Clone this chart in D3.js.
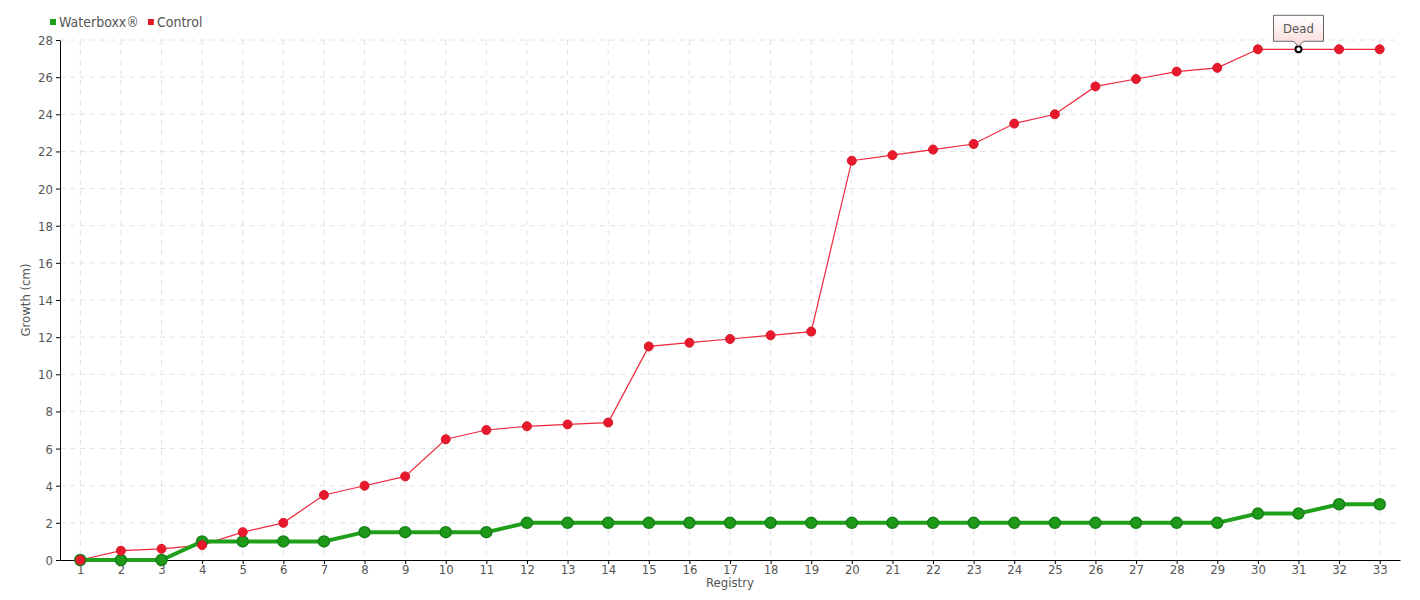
<!DOCTYPE html>
<html>
<head>
<meta charset="utf-8">
<script src="https://cdn.jsdelivr.net/npm/d3@7"></script>
<style>
  body { margin: 0; background: #fff; }
  svg text { font-family: "DejaVu Sans Condensed", "Liberation Sans Narrow", sans-serif; fill: #555; }
</style>
</head>
<body>
<svg id="chart"></svg>
<script>
// registry numbers along the x axis
const registry = d3.range(1, 34);
// growth in cm
const waterboxx = [0, 0, 0, 1, 1, 1, 1, 1.5, 1.5, 1.5, 1.5, 2, 2, 2, 2, 2, 2, 2, 2, 2, 2, 2, 2, 2, 2, 2, 2, 2, 2, 2.5, 2.5, 3, 3];
const control = [0, 0.5, 0.6, 0.8, 1.5, 2, 3.5, 4, 4.5, 6.5, 7, 7.2, 7.3, 7.4, 11.5, 11.7, 11.9, 12.1, 12.3, 21.5, 21.8, 22.1, 22.4, 23.5, 24, 25.5, 25.9, 26.3, 26.5, 27.5, 27.5, 27.5, 27.5];
const yTicks = d3.range(0, 29, 2);
const deadIndex = 30; // registry 31
const seriesNames = ["Waterboxx®", "Control"];

const svgWidth = 1420, svgHeight = 600;
const margin = { top: 40, right: 20, bottom: 40, left: 60 };
const width = svgWidth - margin.left - margin.right;
const height = svgHeight - margin.top - margin.bottom;

const svg = d3.select('#chart')
    .attr("width", svgWidth)
    .attr("height", svgHeight);

const g = svg.append("g")
    .attr("transform", "translate(" + margin.left + "," + margin.top + ")");

const x = d3.scalePoint()
    .domain(registry)
    .range([0, width])
    .padding(0.5);

const y = d3.scaleLinear()
    .domain([0, 28])
    .range([height, 0]);

// grid
g.append("g")
    .selectAll("line")
    .data(registry)
    .join("line")
    .attr("x1", d => x(d)).attr("x2", d => x(d))
    .attr("y1", 0).attr("y2", height)
    .attr("stroke", "#e2e2e2")
    .attr("stroke-dasharray", "5,5");

g.append("g")
    .selectAll("line")
    .data(yTicks.slice(1))
    .join("line")
    .attr("x1", 0).attr("x2", width)
    .attr("y1", d => y(d)).attr("y2", d => y(d))
    .attr("stroke", "#e2e2e2")
    .attr("stroke-dasharray", "5,5");

// axes
const xAxis = g.append("g")
    .attr("transform", "translate(0," + height + ")")
    .call(d3.axisBottom(x).tickSize(4).tickPadding(1).tickSizeOuter(0));
xAxis.selectAll("text").attr("font-size", 13);

const yAxis = g.append("g")
    .call(d3.axisLeft(y).tickValues(yTicks).tickSize(4).tickSizeOuter(0));
yAxis.selectAll("text").attr("font-size", 13).attr("dy", "0.35em");

g.selectAll(".domain").attr("stroke", "#000");
g.selectAll(".tick line").attr("stroke", "#000");

g.append("text")
    .attr("x", width / 2)
    .attr("y", height + 27)
    .attr("text-anchor", "middle")
    .attr("font-size", 13)
    .text("Registry");

g.append("text")
    .attr("transform", "rotate(-90)")
    .attr("x", -height / 2 + 0)
    .attr("y", -30)
    .attr("text-anchor", "middle")
    .attr("font-size", 13)
    .text("Growth (cm)");

const line = d3.line()
    .x((d, i) => x(registry[i]))
    .y(d => y(d));

// control series
g.append("path")
    .datum(control)
    .attr("fill", "none")
    .attr("stroke", "#f0283c")
    .attr("stroke-width", 1.2)
    .attr("d", line);

// waterboxx series
g.append("path")
    .datum(waterboxx)
    .attr("fill", "none")
    .attr("stroke", "#1fa01a")
    .attr("stroke-width", 4)
    .attr("d", line);

g.append("g")
    .selectAll("circle")
    .data(waterboxx)
    .join("circle")
    .attr("cx", (d, i) => x(registry[i]))
    .attr("cy", d => y(d))
    .attr("r", 5.5)
    .attr("fill", "#1f9a18")
    .attr("stroke", "#17801a")
    .attr("stroke-width", 1.5);

g.append("g")
    .selectAll("circle")
    .data(control)
    .join("circle")
    .attr("cx", (d, i) => x(registry[i]))
    .attr("cy", d => y(d))
    .attr("fill", (d, i) => i === deadIndex ? "#fff" : "#e8192c")
    .attr("stroke", (d, i) => i === deadIndex ? "#000" : "#d81a2a")
    .attr("stroke-width", (d, i) => i === deadIndex ? 2 : 1)
    .attr("r", (d, i) => i === deadIndex ? 3 : 4.5);

// "Dead" callout
const defs = svg.append("defs");
const grad = defs.append("linearGradient")
    .attr("id", "tipGrad")
    .attr("x1", 0).attr("y1", 0).attr("x2", 0).attr("y2", 1);
grad.append("stop").attr("offset", "0%").attr("stop-color", "#ffffff");
grad.append("stop").attr("offset", "100%").attr("stop-color", "#fcd8d8");

const tx = x(registry[deadIndex]);
const ty = y(control[deadIndex]) - 8;
const tw = 50, th = 26;
const tip = g.append("g").attr("transform", "translate(" + tx + "," + ty + ")");
tip.append("path")
    .attr("d", "M" + (-tw / 2) + "," + (-th) + " H" + (tw / 2) + " V0 H5 L0,5 L-5,0 H" + (-tw / 2) + " Z")
    .attr("fill", "url(#tipGrad)")
    .attr("stroke", "#666")
    .attr("stroke-width", 1);
tip.append("text")
    .attr("y", -th / 2)
    .attr("dy", "0.35em")
    .attr("text-anchor", "middle")
    .attr("font-size", 13)
    .text("Dead");

// legend
const legend = svg.append("g").attr("transform", "translate(50,22)");
const legendColors = ["#1fa01a", "#e8192c"];
let lx = 0;
seriesNames.forEach((name, i) => {
    const item = legend.append("g").attr("transform", "translate(" + lx + ",0)");
    item.append("rect").attr("x", 0).attr("y", -3).attr("width", 6).attr("height", 6).attr("fill", legendColors[i]);
    const t = item.append("text").attr("x", 9).attr("dy", "0.35em").attr("font-size", 14).text(name);
    lx += 9 + t.node().getComputedTextLength() + 9;
});
</script>
</body>
</html>
